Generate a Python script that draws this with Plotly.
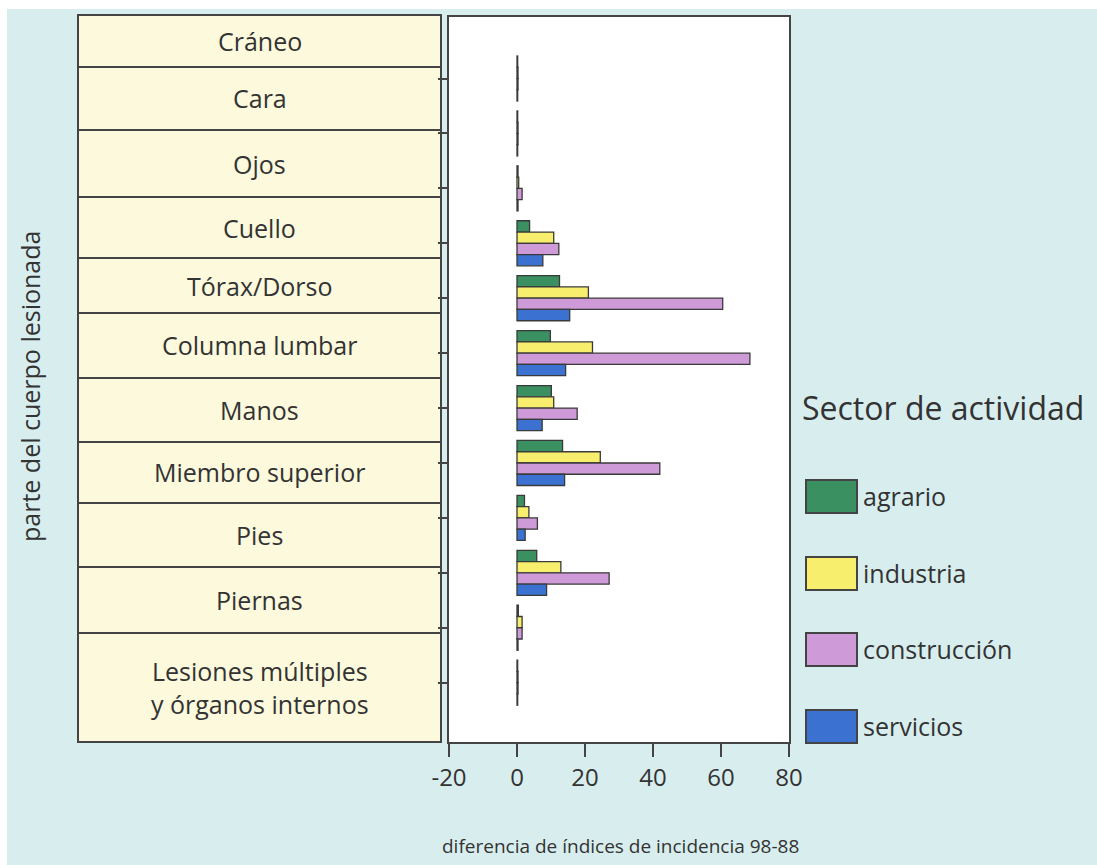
import plotly.graph_objects as go

# ---------------- data ----------------
grupos = list(range(12))  # bar-group positions (top to bottom)
table_labels = ["Cráneo", "Cara", "Ojos", "Cuello", "Tórax/Dorso", "Columna lumbar",
                "Manos", "Miembro superior", "Pies", "Piernas",
                "Lesiones múltiples<br>y órganos internos"]
series_names = ["agrario", "industria", "construcción", "servicios"]
agrario = [0.2, 0.2, 0.3, 3.7, 12.5, 9.8, 10.1, 13.4, 2.2, 5.8, 0.4, 0.2]
industria = [0.3, 0.3, 0.5, 10.8, 21.0, 22.2, 10.8, 24.5, 3.5, 12.9, 1.5, 0.3]
construccion = [0.3, 0.3, 1.5, 12.3, 60.5, 68.5, 17.7, 42.0, 6.0, 27.1, 1.5, 0.3]
servicios = [0.2, 0.2, 0.3, 7.6, 15.5, 14.3, 7.4, 14.0, 2.4, 8.7, 0.3, 0.2]
x_ticks = [-20, 0, 20, 40, 60, 80]

# ---------------- style ----------------
W, H = 1097, 865
L, R, T, B = 449, 789, 17, 742
colors = ["#3a9060", "#f6ee6c", "#cf9ad8", "#3b72d2"]
edge = "#3a3a3a"
bg = "#d8eeee"
beige = "#fcf9dc"
font = "Open Sans"
txt = "#333333"


def X(px):
    return (px - L) / (R - L)


def Y(py):
    return (B - py) / (B - T)


fig = go.Figure()
for name, vals, col in zip(series_names, [agrario, industria, construccion, servicios], colors):
    fig.add_trace(go.Bar(
        y=grupos, x=vals, name=name, orientation="h",
        marker=dict(color=col, line=dict(color=edge, width=1.3)),
        showlegend=False,
    ))

shapes = []
annotations = []
# white scan border
shapes.append(dict(type="rect", xref="paper", yref="paper", x0=X(0), x1=X(W), y0=Y(9), y1=Y(0),
                   fillcolor="white", line=dict(width=0), layer="below"))
shapes.append(dict(type="rect", xref="paper", yref="paper", x0=X(0), x1=X(7), y0=Y(H), y1=Y(0),
                   fillcolor="white", line=dict(width=0), layer="below"))

# label table on the left
row_edges = [15, 67, 130, 197, 258, 313, 378, 442, 503, 567, 633, 742]
tx0, tx1 = 78, 441
for i, lab in enumerate(table_labels):
    y0, y1 = row_edges[i], row_edges[i + 1]
    shapes.append(dict(type="rect", xref="paper", yref="paper", x0=X(tx0), x1=X(tx1),
                       y0=Y(y1), y1=Y(y0), fillcolor=beige,
                       line=dict(color="#444444", width=2), layer="below"))
    annotations.append(dict(x=X((tx0 + tx1) / 2), y=Y((y0 + y1) / 2), xref="paper", yref="paper",
                            text=lab, showarrow=False, xanchor="center", yanchor="middle",
                            font=dict(family=font, size=25, color=txt)))

# legend (custom, large swatches)
annotations.append(dict(x=X(800), y=Y(407), xref="paper", yref="paper", text="Sector de actividad",
                        showarrow=False, xanchor="left", yanchor="middle",
                        font=dict(family=font, size=32, color=txt)))
sw_tops = [480, 557, 633, 710]
for name, col, top in zip(series_names, colors, sw_tops):
    shapes.append(dict(type="rect", xref="paper", yref="paper", x0=X(806), x1=X(857),
                       y0=Y(top + 33), y1=Y(top), fillcolor=col,
                       line=dict(color="#444444", width=2)))
    annotations.append(dict(x=X(861), y=Y(top + 16), xref="paper", yref="paper", text=name,
                            showarrow=False, xanchor="left", yanchor="middle",
                            font=dict(family=font, size=25, color=txt)))

# axis titles
annotations.append(dict(x=X(620), y=Y(846), xref="paper", yref="paper",
                        text="diferencia de índices de incidencia 98-88", showarrow=False,
                        xanchor="center", yanchor="middle",
                        font=dict(family=font, size=19, color=txt)))
annotations.append(dict(x=X(30), y=Y(387), xref="paper", yref="paper",
                        text="parte del cuerpo lesionada", showarrow=False, textangle=-90,
                        xanchor="center", yanchor="middle",
                        font=dict(family=font, size=25, color=txt)))

fig.update_layout(
    width=W, height=H,
    margin=dict(l=L, r=W - R, t=T, b=H - B, pad=0),
    paper_bgcolor=bg, plot_bgcolor="white",
    barmode="group", bargap=0.18, bargroupgap=0,
    shapes=shapes, annotations=annotations,
    font=dict(family=font, color=txt),
    xaxis=dict(range=[-20, 80], tickvals=x_ticks, ticktext=[str(v) for v in x_ticks],
               ticks="outside", ticklen=13, tickwidth=2,
               tickcolor="#444444", showline=True, linecolor="#444444", linewidth=2, mirror=True,
               showgrid=False, zeroline=False, tickfont=dict(family=font, size=24, color=txt)),
    yaxis=dict(range=[12.08, -1.12], tickvals=grupos, ticks="outside", ticklen=9, tickwidth=2,
               tickcolor="#444444", showticklabels=False, showline=True, linecolor="#444444",
               linewidth=2, mirror=True, showgrid=False, zeroline=False),
)

fig.write_html("out.html",
               config={"displayModeBar": False},
               post_script="document.body.style.margin='0';document.body.style.padding='0';"
                           "document.documentElement.style.overflow='hidden';")
